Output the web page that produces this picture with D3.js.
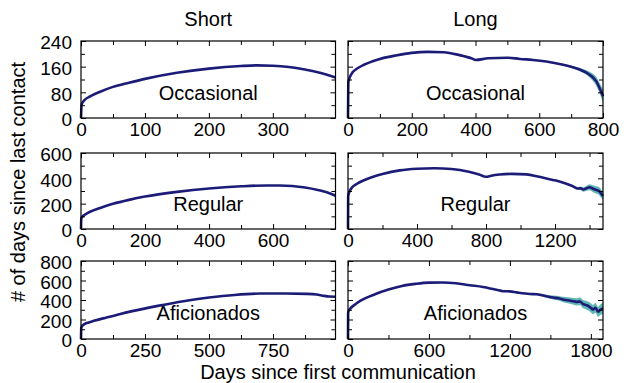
<!DOCTYPE html>
<html>
<head>
<meta charset="utf-8">
<script src="https://cdn.jsdelivr.net/npm/d3@7"></script>
<style>
body { margin: 0; background: #fff; }
text { font-family: "Liberation Sans", Arial, sans-serif; fill: #000; }
</style>
</head>
<body>
<div id="vis"></div>
<script>
// column titles, row labels, axis titles
var columns = ["Short", "Long"];
var groups = ["Occasional", "Regular", "Aficionados"];
var xTitle = "Days since first communication";
var yTitle = "# of days since last contact";

// axis ranges and tick steps  [major, minor]
var shortXMax = [398, 795, 994];
var longXMax = [800, 1478, 1890];
var shortXStep = [[100, 50], [200, 100], [250, 125]];
var longXStep = [[200, 100], [400, 200], [600, 300]];
var yMax = [240, 600, 800];
var yStep = [[80, 40], [200, 100], [200, 100]];

// Short / Occasional
var shortOccDays = [0, 1, 5, 15, 30, 50, 75, 100, 150, 200, 250, 275, 300, 325, 350, 375, 398];
var shortOccVals = [0, 42, 55, 68, 82, 97, 110, 122, 141, 154, 162, 164, 163, 159, 151, 140, 126];
var shortOccBand = [0, 0, 0, 0, 0, 0, 0, 0, 0, 0, 0, 0, 0, 0, 0, 1, 2];

// Long / Occasional
var longOccDays = [0, 1, 5, 15, 30, 50, 75, 100, 150, 200, 250, 300, 350, 390, 400, 440, 500, 539, 580, 622, 675, 700, 727, 758, 779, 795, 800];
var longOccVals = [0, 110, 125, 143, 155, 166, 176, 184, 195, 203, 206, 205, 196, 185, 181, 186, 188, 184, 181, 176, 166, 160, 151, 135, 114, 80, 68];
var longOccBand = [0, 0, 0, 0, 0, 0, 0, 0, 0, 0, 0, 0, 0, 0, 0, 0, 0, 0, 0, 1, 2, 3, 5, 9, 14, 18, 20];

// Short / Regular
var shortRegDays = [0, 1, 5, 15, 30, 50, 75, 100, 150, 200, 300, 400, 500, 580, 620, 660, 700, 740, 770, 795];
var shortRegVals = [0, 85, 100, 118, 138, 158, 180, 199, 230, 256, 293, 320, 337, 344, 344, 340, 328, 308, 288, 262];
var shortRegBand = [0, 0, 0, 0, 0, 0, 0, 0, 0, 0, 0, 0, 0, 0, 0, 0, 1, 2, 3, 4];

// Long / Regular
var longRegDays = [0, 1, 5, 20, 50, 100, 150, 200, 300, 400, 500, 600, 700, 760, 800, 830, 878, 950, 1034, 1100, 1169, 1200, 1266, 1300, 1333, 1350, 1362, 1380, 1401, 1420, 1440, 1455, 1469, 1478];
var longRegVals = [0, 255, 282, 322, 355, 389, 414, 434, 463, 476, 480, 474, 452, 430, 412, 421, 430, 435, 431, 415, 393, 384, 357, 340, 320, 322, 312, 320, 330, 318, 308, 300, 276, 262];
var longRegBand = [0, 0, 0, 0, 0, 0, 0, 0, 0, 0, 0, 0, 0, 0, 0, 0, 0, 0, 0, 0, 2, 3, 5, 7, 11, 14, 17, 20, 24, 27, 30, 31, 32, 32];

// Short / Aficionados
var shortAfiDays = [0, 1, 5, 15, 30, 50, 100, 150, 200, 300, 400, 500, 600, 700, 800, 880, 920, 950, 970, 994];
var shortAfiVals = [0, 110, 135, 155, 170, 186, 221, 255, 286, 340, 388, 425, 452, 466, 467, 463, 456, 442, 436, 434];
var shortAfiBand = [0, 0, 0, 0, 0, 0, 0, 0, 0, 0, 0, 0, 0, 0, 0, 1, 2, 3, 5, 6];

// Long / Aficionados
var longAfiDays = [0, 1, 5, 20, 50, 100, 200, 300, 400, 500, 600, 700, 800, 902, 1000, 1100, 1149, 1200, 1250, 1347, 1400, 1471, 1520, 1560, 1594, 1630, 1660, 1693, 1720, 1740, 1767, 1785, 1800, 1816, 1835, 1853, 1870, 1890];
var longAfiVals = [0, 265, 288, 316, 352, 398, 459, 507, 544, 565, 578, 580, 572, 552, 534, 505, 490, 488, 478, 462, 459, 439, 425, 418, 405, 398, 390, 381, 385, 360, 347, 335, 320, 303, 320, 279, 300, 314];
var longAfiBand = [0, 0, 0, 0, 0, 0, 0, 0, 0, 0, 0, 0, 0, 0, 0, 0, 0, 2, 4, 7, 10, 15, 20, 24, 28, 31, 34, 37, 40, 42, 44, 46, 47, 48, 50, 52, 54, 55];

var series = [
    [[shortOccDays, shortOccVals, shortOccBand], [longOccDays, longOccVals, longOccBand]],
    [[shortRegDays, shortRegVals, shortRegBand], [longRegDays, longRegVals, longRegBand]],
    [[shortAfiDays, shortAfiVals, shortAfiBand], [longAfiDays, longAfiVals, longAfiBand]]
];

// layout
var colLeft = [81, 348], colWidth = [254.5, 255];
var rowTop = [41, 153, 261], rowHeight = [77, 76, 78];
var lineColor = "#1c1c78", bandColor = "#62b8b4";

var svg = d3.select("#vis")
    .append("svg")
    .attr("width", 626)
    .attr("height", 383);

// column titles
columns.forEach(function (c, ci) {
    svg.append("text")
        .attr("x", colLeft[ci] + colWidth[ci] / 2)
        .attr("y", 26)
        .attr("text-anchor", "middle")
        .style("font-size", "20px")
        .text(c);
});

groups.forEach(function (grp, ri) {
    columns.forEach(function (c, ci) {
        var xmax = ci === 0 ? shortXMax[ri] : longXMax[ri];
        var xs = ci === 0 ? shortXStep[ri] : longXStep[ri];
        var w = colWidth[ci], h = rowHeight[ri];

        var x = d3.scaleLinear().domain([0, xmax]).range([0, w]);
        var y = d3.scaleLinear().domain([0, yMax[ri]]).range([h, 0]);

        var g = svg.append("g")
            .attr("transform", "translate(" + colLeft[ci] + "," + rowTop[ri] + ")");

        var s = series[ri][ci];
        var pts = s[0].map(function (d, i) { return {day: d, v: s[1][i], b: s[2][i]}; });

        // confidence band
        g.append("path")
            .attr("fill", bandColor)
            .attr("d", d3.area()
                .curve(d3.curveMonotoneX)
                .x(function (d) { return x(d.day); })
                .y0(function (d) { return y(d.v - d.b); })
                .y1(function (d) { return y(d.v + d.b); })(pts));

        // mean line
        g.append("path")
            .attr("fill", "none")
            .attr("stroke", lineColor)
            .attr("stroke-width", 2.6)
            .attr("stroke-linejoin", "round")
            .attr("d", d3.line()
                .curve(d3.curveMonotoneX)
                .x(function (d) { return x(d.day); })
                .y(function (d) { return y(d.v); })(pts));

        var xMajor = d3.range(0, xmax + 1, xs[0]);
        var xMinor = d3.range(0, xmax + 1, xs[1]).filter(function (v) { return v % xs[0] !== 0; });
        var yMajor = d3.range(0, yMax[ri] + 1, yStep[ri][0]);
        var yMinor = d3.range(0, yMax[ri] + 1, yStep[ri][1]).filter(function (v) { return v % yStep[ri][0] !== 0; });

        function clean(a) {
            a.select(".domain").remove();
            a.selectAll("line").attr("stroke", "#000");
            a.selectAll("text").style("font-size", "19px").attr("fill", "#000");
        }

        // bottom axis with labels
        g.append("g")
            .attr("transform", "translate(0," + h + ")")
            .call(d3.axisBottom(x).tickValues(xMajor).tickSize(-5).tickPadding(5).tickFormat(d3.format("d")))
            .call(clean);
        g.append("g")
            .attr("transform", "translate(0," + h + ")")
            .call(d3.axisBottom(x).tickValues(xMinor).tickSize(-4).tickFormat(""))
            .call(clean);
        // top mirror
        g.append("g")
            .call(d3.axisTop(x).tickValues(xMajor).tickSize(-5).tickFormat(""))
            .call(clean);
        g.append("g")
            .call(d3.axisTop(x).tickValues(xMinor).tickSize(-4).tickFormat(""))
            .call(clean);

        // left axis (labels only on first column)
        g.append("g")
            .call(d3.axisLeft(y).tickValues(yMajor).tickSize(-5).tickPadding(9)
                .tickFormat(ci === 0 ? d3.format("d") : ""))
            .call(clean)
            .call(function (a) { a.selectAll("text").attr("dy", "0.42em"); });
        g.append("g")
            .call(d3.axisLeft(y).tickValues(yMinor).tickSize(-4).tickFormat(""))
            .call(clean);
        // right mirror
        g.append("g")
            .attr("transform", "translate(" + w + ",0)")
            .call(d3.axisRight(y).tickValues(yMajor).tickSize(-5).tickFormat(""))
            .call(clean);
        g.append("g")
            .attr("transform", "translate(" + w + ",0)")
            .call(d3.axisRight(y).tickValues(yMinor).tickSize(-4).tickFormat(""))
            .call(clean);

        // frame
        g.append("rect")
            .attr("width", w)
            .attr("height", h)
            .attr("fill", "none")
            .attr("stroke", "#000")
            .attr("stroke-width", 1.2);

        // group label
        g.append("text")
            .attr("x", w / 2)
            .attr("y", h * 0.76)
            .attr("text-anchor", "middle")
            .style("font-size", "20px")
            .text(grp);
    });
});

// axis titles
svg.append("text")
    .attr("x", 338)
    .attr("y", 379)
    .attr("text-anchor", "middle")
    .style("font-size", "20px")
    .text(xTitle);

svg.append("text")
    .attr("transform", "translate(24.5,182) rotate(-90)")
    .attr("text-anchor", "middle")
    .style("font-size", "20px")
    .text(yTitle);
</script>
</body>
</html>
